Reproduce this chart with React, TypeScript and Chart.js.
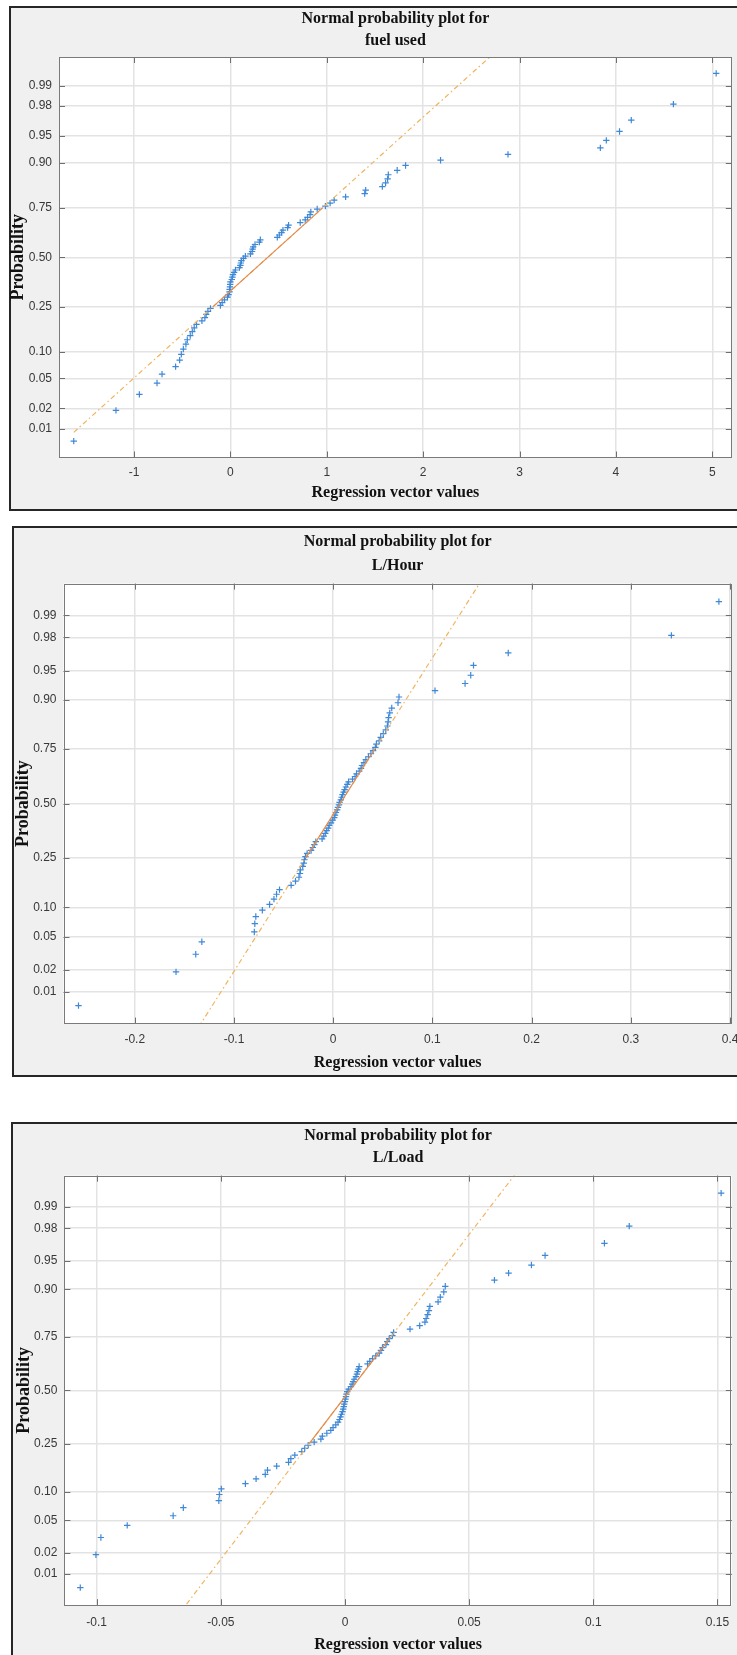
import React, { useEffect, useRef } from 'react';
import { Chart, registerables } from 'chart.js';

Chart.register(...registerables);

// ---------- data ----------
const probTicks = [0.01, 0.02, 0.05, 0.1, 0.25, 0.5, 0.75, 0.9, 0.95, 0.98, 0.99];
const probTickLabels = ['0.01', '0.02', '0.05', '0.10', '0.25', '0.50', '0.75', '0.90', '0.95', '0.98', '0.99'];

const fuelUsedTitle = ['Normal probability plot for', 'fuel used'];
const fuelUsedValues = [
  -1.626, -1.188, -0.945, -0.762, -0.71, -0.569, -0.527, -0.51, -0.489, -0.462,
  -0.448, -0.417, -0.396, -0.376, -0.352, -0.296, -0.265, -0.252, -0.234, -0.207,
  -0.104, -0.086, -0.062, -0.031, -0.02, -0.01, -0.008, -0.005, -0.003, 0.0,
  0.014, 0.02, 0.026, 0.038, 0.052, 0.093, 0.103, 0.108, 0.114, 0.135,
  0.155, 0.207, 0.224, 0.23, 0.236, 0.255, 0.3, 0.31, 0.486, 0.507,
  0.53, 0.545, 0.593, 0.603, 0.724, 0.776, 0.8, 0.826, 0.834, 0.9,
  0.985, 1.034, 1.076, 1.195, 1.393, 1.403, 1.576, 1.61, 1.631, 1.638,
  1.73, 1.817, 2.18, 2.88, 3.838, 3.9, 4.037, 4.159, 4.596, 5.04,
];
const fuelUsedQuartiles = [-0.183, 0.959];
const fuelUsedXRange = [-1.779, 5.202];
const fuelUsedXTicks = [-1, 0, 1, 2, 3, 4, 5];
const fuelUsedXTickLabels = ['-1', '0', '1', '2', '3', '4', '5'];

const perHourTitle = ['Normal probability plot for', 'L/Hour'];
const perHourValues = [
  -0.2567, -0.1584, -0.1385, -0.1324, -0.0795, -0.079, -0.078, -0.0714, -0.0641, -0.0597,
  -0.0571, -0.0541, -0.0424, -0.038, -0.0345, -0.0335, -0.033, -0.0307, -0.0297, -0.029,
  -0.028, -0.0263, -0.0223, -0.0205, -0.019, -0.0175, -0.0112, -0.0095, -0.008, -0.0066,
  -0.005, -0.004, -0.0022, -0.0005, 0.001, 0.0018, 0.0028, 0.004, 0.0048, 0.0058,
  0.0064, 0.0077, 0.0085, 0.0094, 0.0105, 0.0115, 0.0128, 0.0142, 0.0155, 0.0195,
  0.022, 0.0235, 0.0262, 0.028, 0.029, 0.031, 0.0329, 0.0355, 0.038, 0.0402,
  0.0425, 0.0435, 0.0463, 0.0479, 0.0505, 0.053, 0.0546, 0.0553, 0.0558, 0.057,
  0.059, 0.0653, 0.0663, 0.1026, 0.1329, 0.1386, 0.1414, 0.1764, 0.3408, 0.3887,
];
const perHourQuartiles = [-0.0278, 0.0418];
const perHourXRange = [-0.2718, 0.4017];
const perHourXTicks = [-0.2, -0.1, 0, 0.1, 0.2, 0.3, 0.4];
const perHourXTickLabels = ['-0.2', '-0.1', '0', '0.1', '0.2', '0.3', '0.4'];

const perLoadTitle = ['Normal probability plot for', 'L/Load'];
const perLoadValues = [
  -0.1066, -0.1003, -0.0983, -0.0877, -0.0692, -0.0651, -0.0508, -0.0506, -0.0498, -0.0401,
  -0.0358, -0.0321, -0.0312, -0.0275, -0.0227, -0.0218, -0.0202, -0.0174, -0.0162, -0.0148,
  -0.0124, -0.0097, -0.0091, -0.0073, -0.0057, -0.0048, -0.0037, -0.0028, -0.0022, -0.0018,
  -0.0014, -0.001, -0.0007, -0.0005, -0.0003, 0.0, 0.0002, 0.0004, 0.0006, 0.0009,
  0.0015, 0.0024, 0.0029, 0.0033, 0.0037, 0.0044, 0.0048, 0.0051, 0.0054, 0.0057,
  0.0091, 0.01, 0.0111, 0.0124, 0.0138, 0.0145, 0.0151, 0.0165, 0.017, 0.0178,
  0.0191, 0.0196, 0.0262, 0.0301, 0.0322, 0.0327, 0.0333, 0.0338, 0.0342, 0.0375,
  0.0384, 0.0398, 0.0404, 0.0602, 0.0659, 0.0751, 0.0806, 0.1045, 0.1145, 0.1515,
];
const perLoadQuartiles = [-0.0144, 0.0184];
const perLoadXRange = [-0.113, 0.1558];
const perLoadXTicks = [-0.1, -0.05, 0, 0.05, 0.1, 0.15];
const perLoadXTickLabels = ['-0.1', '-0.05', '0', '0.05', '0.1', '0.15'];

const yAxisTitle = 'Probability';
const xAxisTitle = 'Regression vector values';

// ---------- helpers ----------
// inverse standard normal CDF (Acklam) – maps probabilities onto the normal-probability axis
function normInv(p: number): number {
  const a = [-39.69683028665376, 220.9460984245205, -275.9285104469687, 138.357751867269, -30.66479806614716, 2.506628277459239];
  const b = [-54.47609879822406, 161.5858368580409, -155.6989798598866, 66.80131188771972, -13.28068155288572];
  const c = [-0.007784894002430293, -0.3223964580411365, -2.400758277161838, -2.549732539343734, 4.374664141464968, 2.938163982698783];
  const d = [0.007784695709041462, 0.3224671290700398, 2.445134137142996, 3.754408661907416];
  const pLow = 0.02425;
  if (p < pLow) {
    const q = Math.sqrt(-2 * Math.log(p));
    return (((((c[0] * q + c[1]) * q + c[2]) * q + c[3]) * q + c[4]) * q + c[5]) / ((((d[0] * q + d[1]) * q + d[2]) * q + d[3]) * q + 1);
  }
  if (p <= 1 - pLow) {
    const q = p - 0.5;
    const r = q * q;
    return ((((((a[0] * r + a[1]) * r + a[2]) * r + a[3]) * r + a[4]) * r + a[5]) * q) / (((((b[0] * r + b[1]) * r + b[2]) * r + b[3]) * r + b[4]) * r + 1);
  }
  const q = Math.sqrt(-2 * Math.log(1 - p));
  return -(((((c[0] * q + c[1]) * q + c[2]) * q + c[3]) * q + c[4]) * q + c[5]) / ((((d[0] * q + d[1]) * q + d[2]) * q + d[3]) * q + 1);
}

const SERIF = '"Liberation Serif", "Times New Roman", serif';
const SANS = '"Liberation Sans", Arial, Helvetica, sans-serif';
const TITLE_SIZE = 16;
const YTITLE_SIZE = 18;
const TICK_SIZE = 12;
const Z_LIMIT = 2.72;

type Layout = {
  top: number; height: number;
  boxLeft: number; boxTop: number; boxHeight: number;
  chartLeft: number; chartTop: number; chartBottom: number; padRight: number;
  titleLine1: number; titleLineHeight: number;
  xLabelCenter: number; xTitleCenter: number; yTitleX: number;
};

type Spec = {
  title: string[]; values: number[]; quartiles: number[]; xRange: number[];
  xTicks: number[]; xTickLabels: string[]; layout: Layout;
};

const specs: Spec[] = [
  {
    title: fuelUsedTitle, values: fuelUsedValues, quartiles: fuelUsedQuartiles, xRange: fuelUsedXRange,
    xTicks: fuelUsedXTicks, xTickLabels: fuelUsedXTickLabels,
    layout: { top: 0, height: 511, boxLeft: 9, boxTop: 6, boxHeight: 505, chartLeft: 59, chartTop: 57, chartBottom: 457.5, padRight: 3, titleLine1: 18.9, titleLineHeight: 21.6, xLabelCenter: 472.5, xTitleCenter: 493.2, yTitleX: 18.8 },
  },
  {
    title: perHourTitle, values: perHourValues, quartiles: perHourQuartiles, xRange: perHourXRange,
    xTicks: perHourXTicks, xTickLabels: perHourXTickLabels,
    layout: { top: 520, height: 557, boxLeft: 12, boxTop: 526, boxHeight: 551, chartLeft: 63.5, chartTop: 583.6, chartBottom: 1023.6, padRight: 4, titleLine1: 542.1, titleLineHeight: 23.6, xLabelCenter: 1039.6, xTitleCenter: 1062.9, yTitleX: 23.5 },
  },
  {
    title: perLoadTitle, values: perLoadValues, quartiles: perLoadQuartiles, xRange: perLoadXRange,
    xTicks: perLoadXTicks, xTickLabels: perLoadXTickLabels,
    layout: { top: 1118, height: 537, boxLeft: 11, boxTop: 1122, boxHeight: 600, chartLeft: 64.4, chartTop: 1175.6, chartBottom: 1605.2, padRight: 3, titleLine1: 1135.4, titleLineHeight: 22.8, xLabelCenter: 1622.5, xTitleCenter: 1644.5, yTitleX: 24.4 },
  },
];

const framePlugin = {
  id: 'matlabFrame',
  beforeDraw(chart: any) {
    const { ctx, chartArea: a } = chart;
    ctx.save();
    ctx.fillStyle = '#ffffff';
    ctx.fillRect(a.left, a.top, a.right - a.left, a.bottom - a.top);
    ctx.restore();
  },
  afterDraw(chart: any) {
    const { ctx, chartArea: a } = chart;
    const xs = chart.scales.x;
    const ys = chart.scales.y;
    ctx.save();
    ctx.strokeStyle = '#6e6e6e';
    ctx.lineWidth = 1;
    ctx.beginPath();
    xs.ticks.forEach((t: any) => {
      const px = Math.round(xs.getPixelForValue(t.value)) + 0.5;
      ctx.moveTo(px, a.bottom); ctx.lineTo(px, a.bottom - 6);
      ctx.moveTo(px, a.top); ctx.lineTo(px, a.top + 6);
    });
    ys.ticks.forEach((t: any) => {
      const py = Math.round(ys.getPixelForValue(t.value)) + 0.5;
      ctx.moveTo(a.left, py); ctx.lineTo(a.left + 6, py);
      ctx.moveTo(a.right, py); ctx.lineTo(a.right - 6, py);
    });
    ctx.stroke();
    ctx.strokeStyle = '#7a7a7a';
    ctx.strokeRect(Math.round(a.left) + 0.5, Math.round(a.top) + 0.5, Math.round(a.right - a.left) - 1, Math.round(a.bottom - a.top) - 1);
    ctx.restore();
  },
};

function buildConfig(spec: Spec): any {
  const L = spec.layout;
  const sorted = [...spec.values].sort((p, q) => p - q);
  const n = sorted.length;
  const points = sorted.map((x, i) => ({ x, y: normInv((i + 0.5) / n) }));
  const z25 = normInv(0.25);
  const z75 = normInv(0.75);
  const [q1, q3] = spec.quartiles;
  const slope = (z75 - z25) / (q3 - q1);
  const zAt = (x: number) => z25 + slope * (x - q1);
  const xLo = sorted[0];
  const xHi = sorted[n - 1];
  const yTickValues = probTicks.map(normInv);

  const titleLH = L.titleLineHeight;
  const titlePadTop = L.titleLine1 - L.top - titleLH / 2;
  const titlePadBottom = L.chartTop - L.top - titlePadTop - titleLH * spec.title.length;
  const xAxisHeight = L.top + L.height - L.chartBottom;
  const tickLH = TICK_SIZE * 1.2;
  const xTickPad = L.xLabelCenter - L.chartBottom - tickLH / 2;
  const xTitlePadBottom = L.top + L.height - L.xTitleCenter - (TITLE_SIZE * 1.2) / 2;
  const yTitlePadTop = L.yTitleX - (YTITLE_SIZE * 1.2) / 2;

  return {
    type: 'scatter',
    data: {
      datasets: [
        {
          label: 'data',
          data: points,
          showLine: false,
          pointStyle: 'cross',
          pointRadius: 3.2,
          pointBorderWidth: 1.2,
          borderColor: '#3f88d6',
          backgroundColor: '#3f88d6',
          order: 3,
        },
        {
          label: 'fit extension',
          type: 'line',
          data: [{ x: xLo, y: zAt(xLo) }, { x: xHi, y: zAt(xHi) }],
          borderColor: '#f0b45e',
          borderWidth: 1.2,
          borderDash: [5, 3, 1.5, 3],
          pointRadius: 0,
          fill: false,
          order: 2,
        },
        {
          label: 'fit',
          type: 'line',
          data: [{ x: q1, y: z25 }, { x: q3, y: z75 }],
          borderColor: '#e38a4e',
          borderWidth: 1.2,
          pointRadius: 0,
          fill: false,
          order: 1,
        },
      ],
    },
    options: {
      responsive: false,
      animation: false,
      devicePixelRatio: 1,
      events: [],
      layout: { padding: { left: 0, right: L.padRight, top: 0, bottom: 0 } },
      plugins: {
        legend: { display: false },
        tooltip: { enabled: false },
        title: {
          display: true,
          text: spec.title,
          fullSize: false,
          color: '#111111',
          font: { family: SERIF, size: TITLE_SIZE, weight: 'bold', lineHeight: titleLH / TITLE_SIZE },
          padding: { top: titlePadTop, bottom: titlePadBottom },
        },
      },
      scales: {
        x: {
          type: 'linear',
          position: 'bottom',
          min: spec.xRange[0],
          max: spec.xRange[1],
          afterBuildTicks: (axis: any) => {
            axis.ticks = spec.xTicks.map((v) => ({ value: v }));
          },
          afterFit: (axis: any) => {
            axis.height = xAxisHeight;
            axis.paddingLeft = 0;
            axis.paddingRight = 0;
          },
          grid: { color: '#e3e3e3', lineWidth: 1.5, drawTicks: false },
          border: { display: false },
          ticks: {
            autoSkip: false,
            maxRotation: 0,
            padding: xTickPad,
            color: '#383838',
            font: { family: SANS, size: TICK_SIZE, lineHeight: 1.2 },
            callback: (_v: any, i: number) => spec.xTickLabels[i],
          },
          title: {
            display: true,
            text: xAxisTitle,
            color: '#111111',
            font: { family: SERIF, size: TITLE_SIZE, weight: 'bold', lineHeight: 1.2 },
            padding: { top: 0, bottom: xTitlePadBottom },
          },
        },
        y: {
          type: 'linear',
          position: 'left',
          min: -Z_LIMIT,
          max: Z_LIMIT,
          afterBuildTicks: (axis: any) => {
            axis.ticks = yTickValues.map((v) => ({ value: v }));
          },
          afterFit: (axis: any) => {
            axis.width = L.chartLeft;
          },
          grid: { color: '#e3e3e3', lineWidth: 1.5, drawTicks: false },
          border: { display: false },
          ticks: {
            autoSkip: false,
            padding: 7,
            color: '#383838',
            font: { family: SANS, size: TICK_SIZE, lineHeight: 1.2 },
            callback: (_v: any, i: number) => probTickLabels[i],
          },
          title: {
            display: true,
            text: yAxisTitle,
            color: '#111111',
            font: { family: SERIF, size: YTITLE_SIZE, weight: 'bold', lineHeight: 1.2 },
            padding: { top: yTitlePadTop, bottom: 0 },
          },
        },
      },
    },
    plugins: [framePlugin],
  };
}

function Panel({ spec }: { spec: Spec }) {
  const ref = useRef<HTMLCanvasElement | null>(null);
  useEffect(() => {
    if (!ref.current) return;
    const chart = new Chart(ref.current, buildConfig(spec));
    return () => chart.destroy();
  }, [spec]);
  const L = spec.layout;
  return (
    <>
      <div
        style={{
          position: 'absolute', left: L.boxLeft, top: L.boxTop, width: 800, height: L.boxHeight,
          boxSizing: 'border-box', border: '2px solid #262626', background: '#f0f0f0',
        }}
      />
      <canvas
        ref={ref}
        width={737}
        height={L.height}
        style={{ position: 'absolute', left: 0, top: L.top, width: 737, height: L.height }}
      />
    </>
  );
}

export default function App() {
  return (
    <div style={{ position: 'absolute', left: 0, top: 0, width: 737, height: 1655, overflow: 'hidden', background: '#ffffff' }}>
      {specs.map((s, i) => (
        <Panel key={i} spec={s} />
      ))}
    </div>
  );
}
